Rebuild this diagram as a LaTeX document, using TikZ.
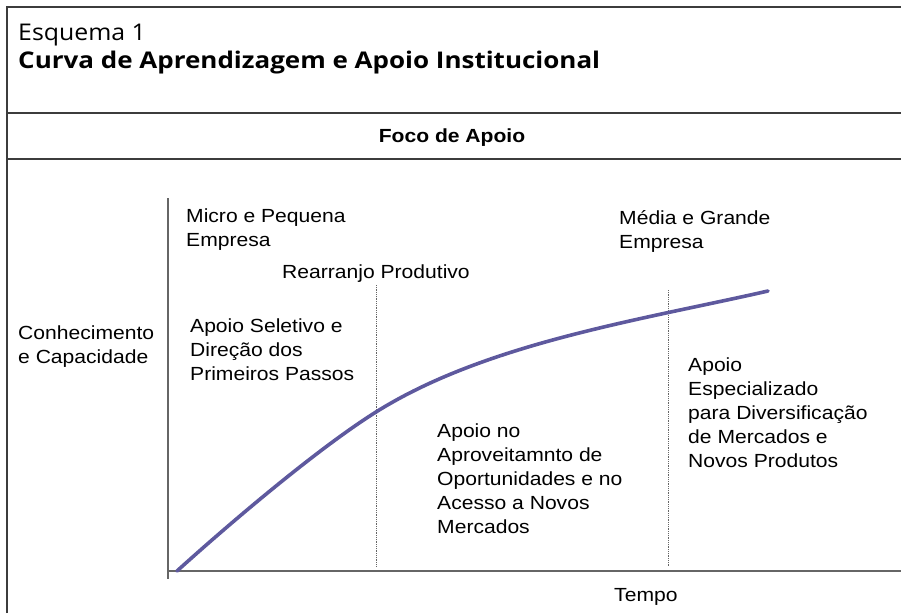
\documentclass[tikz,border=0pt]{standalone}
\usepackage{fontspec}
\usepackage{tikz}
\usepackage{xcolor}
\usetikzlibrary{positioning, calc}
\newfontfamily\bodyfont{Liberation Sans}[FakeStretch=1.11]
\newfontfamily\titlefont{Open Sans}[FakeStretch=1.13]
\newfontfamily\esqfont{Open Sans}[FakeStretch=1.08]
\definecolor{curvecol}{RGB}{94,89,158}
\definecolor{framecol}{RGB}{60,60,60}

\begin{document}
\begin{tikzpicture}[x=1pt, y=-1pt,
  lbl/.style={anchor=base west, align=left, inner sep=0pt, font=\bodyfont\fontsize{19}{24}\selectfont},
  frame/.style={framecol, line width=1.4pt},
  axis/.style={black!60, line width=1.4pt},
  guide/.style={black!60, densely dotted, line width=0.8pt}]
\useasboundingbox (0,0) rectangle (901,613);
% Frame and header
\draw[frame] (7,613) -- (7,7) -- (901,7);
\draw[frame] (7,113) -- (901,113);
\draw[frame] (7,159) -- (901,159);

\node[anchor=base west, inner sep=0pt, font=\esqfont\fontsize{23}{26}\selectfont] (esq) at (18,40) {Esquema 1};
\node[anchor=base west, inner sep=0pt, font=\titlefont\bfseries\fontsize{23}{26}\selectfont] (title) at (18,68) {Curva de Aprendizagem e Apoio Institucional};
\node[anchor=base, inner sep=0pt, font=\bodyfont\bfseries\fontsize{19}{24}\selectfont] (foco) at (452,142) {Foco de Apoio};

% Axes
\coordinate (ytop) at (168,198);
\coordinate (ybot) at (168,579);
\coordinate (xleft) at (167,571);
\coordinate (xright) at (901,571);
\draw[axis] (ytop) -- (ybot);
\draw[axis] (xleft) -- (xright);

% Phase limits
\coordinate (g1top) at (376,285);
\coordinate (g1bot) at (376,566);
\coordinate (g2top) at (668,290);
\coordinate (g2bot) at (668,566);
\draw[guide] (g1top) -- (g1bot);
\draw[guide] (g2top) -- (g2bot);

% Learning curve
\coordinate (c0) at (177,571);
\coordinate (c1) at (376,412);
\coordinate (c2) at (768,291);
\draw[curvecol, line width=3.6pt, line cap=round]
  (c0) .. controls (229,524) and (317,449) .. (c1)
       .. controls (486,343) and (641,320) .. (c2);

% Labels (anchored on the baseline of the last line)
\node[lbl] (yaxis) at (18,363) {Conhecimento\\e Capacidade};
\node[lbl] (micro) at (186,246) {Micro e Pequena\\Empresa};
\node[lbl] (rearr) at (282,278) {Rearranjo Produtivo};
\node[lbl] (media) at (619,248) {Média e Grande\\Empresa};
\node[lbl] (fase1) at (190,380) {Apoio Seletivo e\\Direção dos\\Primeiros Passos};
\node[lbl] (fase2) at (437,533) {Apoio no\\Aproveitamnto de\\Oportunidades e no\\Acesso a Novos\\Mercados};
\node[lbl] (fase3) at (688,467) {Apoio\\Especializado\\para Diversificação\\de Mercados e\\Novos Produtos};
\node[lbl] (tempo) at (614,601) {Tempo};
\end{tikzpicture}
\end{document}
